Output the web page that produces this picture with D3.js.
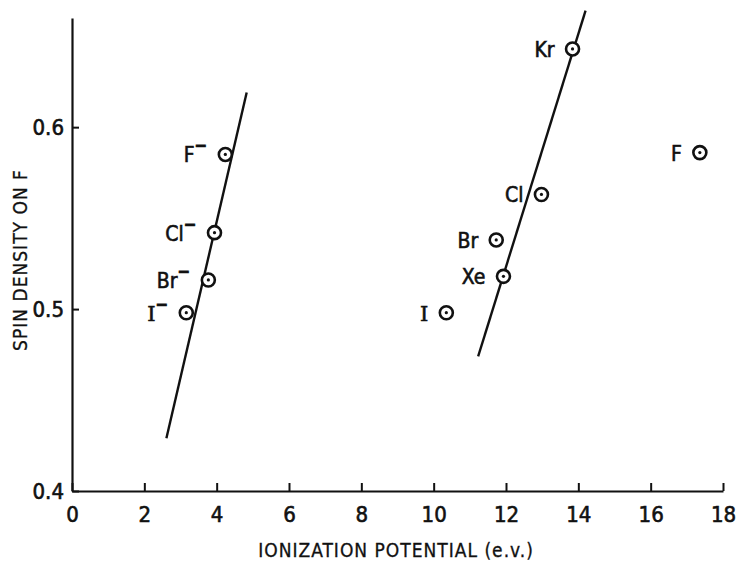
<!DOCTYPE html>
<html>
<head>
<meta charset="utf-8">
<script src="https://cdn.jsdelivr.net/npm/d3@7"></script>
<style>
  body { margin: 0; background: #fff; }
  text { font-family: "DejaVu Sans Condensed", "DejaVu Sans", sans-serif; fill: #111; stroke: #111; stroke-width: 0.6px; }
</style>
</head>
<body>
<svg id="base" width="736" height="567"></svg>
<script>
// ions (electron affinity) and neutral atoms (ionization potential)
let ionNames = ["F", "Cl", "Br", "I"]
let ionIP = [4.24, 3.94, 3.77, 3.16]
let ionSpin = [0.585, 0.542, 0.516, 0.498]

let atomNames = ["Kr", "Cl", "Br", "Xe", "I", "F"]
let atomIP = [13.84, 12.98, 11.73, 11.93, 10.35, 17.36]
let atomSpin = [0.643, 0.563, 0.538, 0.518, 0.498, 0.586]

// straight lines drawn through each group (end points)
let ionLineIP = [2.61, 4.83]
let ionLineSpin = [0.429, 0.619]
let atomLineIP = [11.23, 14.2]
let atomLineSpin = [0.474, 0.664]

let xTicks = [0, 2, 4, 6, 8, 10, 12, 14, 16, 18]
let yTicks = [0.4, 0.5, 0.6]

const base = d3.select('#base')
let x = d3.scaleLinear().domain([0, 18]).range([72, 723])
let y = d3.scaleLinear().domain([0.4, 0.66]).range([491, 18])

// axes, ticks point inwards
let xAxis = d3.axisBottom(x).tickValues(xTicks).tickFormat(d3.format("d"))
    .tickSizeInner(-8).tickSizeOuter(0).tickPadding(12)
let yAxis = d3.axisLeft(y).tickValues(yTicks).tickFormat(d3.format(".1f"))
    .tickSizeInner(-7).tickSizeOuter(0).tickPadding(8)

let gx = base.append('g').attr('transform', 'translate(0,' + y(0.4) + ')').call(xAxis)
let gy = base.append('g').attr('transform', 'translate(' + x(0) + ',0)').call(yAxis)
;[gx, gy].forEach(g => {
    g.select('.domain').attr('stroke', '#111').attr('stroke-width', 2.2)
    g.selectAll('.tick line').attr('stroke', '#111').attr('stroke-width', 2)
    g.selectAll('.tick text').style('font-size', '22px').attr('fill', '#111')
})
gx.selectAll('.tick text').attr('dy', '0.85em')
gy.selectAll('.tick text').attr('dy', '0.35em')

base.append('text')
    .attr('x', 396).attr('y', 557)
    .attr('text-anchor', 'middle')
    .style('font-size', '19px')
    .style('stroke-width', '0.3px')
    .style('letter-spacing', '1px')
    .text('IONIZATION POTENTIAL (e.v.)')

base.append('text')
    .attr('transform', 'translate(27,260) rotate(-90)')
    .attr('text-anchor', 'middle')
    .style('font-size', '19px')
    .style('stroke-width', '0.3px')
    .style('letter-spacing', '1px')
    .text('SPIN DENSITY ON F')

// fitted lines
function drawFit(xs, ys) {
    base.append('line')
        .attr('x1', x(xs[0])).attr('y1', y(ys[0]))
        .attr('x2', x(xs[1])).attr('y2', y(ys[1]))
        .style('stroke', '#111')
        .style('stroke-width', 2.4)
}
drawFit(ionLineIP, ionLineSpin)
drawFit(atomLineIP, atomLineSpin)

function drawPoints(names, xs, ys, charge) {
    for (let i = 0; i < names.length; i++) {
        let cx = x(xs[i]), cy = y(ys[i])
        base.append('circle')
            .attr('cx', cx).attr('cy', cy).attr('r', 6.5)
            .style('fill', '#fff').style('stroke', '#111').style('stroke-width', 2.6)
        base.append('circle')
            .attr('cx', cx).attr('cy', cy).attr('r', 1.6)
            .style('fill', '#111')
        let t = base.append('text')
            .attr('x', cx - 18).attr('y', cy + 8)
            .attr('text-anchor', 'end')
            .style('font-size', '21px')
        let nm = t.append('tspan').text(names[i])
        if (names[i] == "I") nm.style('font-family', '"DejaVu Serif", serif')
        if (charge) {
            t.append('tspan')
                .attr('dy', -11)
                .style('font-size', '17px')
                .style('font-weight', 'bold')
                .text('\u2212')
        }
    }
}
drawPoints(ionNames, ionIP, ionSpin, true)
drawPoints(atomNames, atomIP, atomSpin, false)
</script>
</body>
</html>
